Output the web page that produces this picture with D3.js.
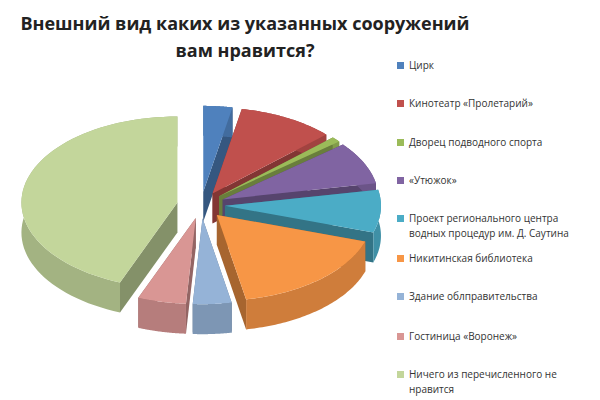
<!DOCTYPE html><html><head><meta charset="utf-8"><script src="https://cdn.jsdelivr.net/npm/d3@7"></script>
<style>body{margin:0;background:#fff}</style></head><body><svg id="c" width="600" height="400"></svg>
<script>
const categories=["Цирк","Кинотеатр «Пролетарий»","Дворец подводного  спорта","«Утюжок»","Проект регионального  центра|водных процедур им. Д. Саутина","Никитинская  библиотека","Здание облправительства","Гостиница «Воронеж»","Ничего из перечисленного не|нравится"];
const values=[3,10,1,8,8,17,4,5,44];
const colors=["#4F81BD","#C0504D","#9BBB59","#8064A2","#4BACC6","#F79646","#95B3D7","#D99694","#C3D69B"];
const svg=d3.select("#c");
svg.append("text").attr("x",245).attr("y",30).attr("text-anchor","middle").attr("font-family","Open Sans, sans-serif").attr("font-weight","bold").attr("font-size",18).attr("fill","#222").text("Внешний вид каких из указанных сооружений");
svg.append("text").attr("x",245).attr("y",57).attr("text-anchor","middle").attr("font-family","Open Sans, sans-serif").attr("font-weight","bold").attr("font-size",18).attr("fill","#222").text("вам нравится?");
const pie=d3.pie().sort(null).value(d=>d)(values);
const cx=201,cy=205,rx=156,ry=86,depth=30,ex=24;
const g=svg.append("g");
function pt(a,r,ox,oy,dz){return [cx+ox+r*rx*Math.sin(a),cy+oy-r*ry*Math.cos(a)+dz];}
const slices=pie.map((p,i)=>{const m=(p.startAngle+p.endAngle)/2;const ox=ex*Math.sin(m),oy=ex*0.55*-Math.cos(m);return {p,i,m,ox,oy};});
slices.sort((a,b)=>(-Math.cos(a.m))-(-Math.cos(b.m)));
slices.forEach(s=>{
 const {p,i,ox,oy}=s;const col=d3.color(colors[i]);const dark=col.darker(1.1).formatHex(),mid=col.darker(0.5).formatHex();
 const N=60;const arcPts=(dz)=>d3.range(N+1).map(k=>pt(p.startAngle+(p.endAngle-p.startAngle)*k/N,1,ox,oy,dz));
 const c0=pt(0,0,ox,oy,0),c1=pt(0,0,ox,oy,depth);
 const a0=pt(p.startAngle,1,ox,oy,0),a0b=pt(p.startAngle,1,ox,oy,depth);
 const a1=pt(p.endAngle,1,ox,oy,0),a1b=pt(p.endAngle,1,ox,oy,depth);
 const line=d3.line();
 [[c0,a0,a0b,c1],[c0,a1,a1b,c1]].forEach(w=>g.append("path").attr("d",line(w)+"Z").attr("fill",dark));
 const top=arcPts(0),bot=arcPts(depth).reverse();
 g.append("path").attr("d",line(top.concat(bot))+"Z").attr("fill",mid);
 g.append("path").attr("d",line([c0].concat(top))+"Z").attr("fill",colors[i]);
});
const lg=svg.append("g").attr("font-family","Open Sans, sans-serif").attr("font-size",10).attr("fill","#333");
const ly=[69,107,146,184,222,262,300,340,378];
categories.forEach((c,i)=>{
 lg.append("rect").attr("x",397).attr("y",ly[i]-7).attr("width",7).attr("height",7).attr("fill",colors[i]);
 c.split("|").forEach((t,j)=>lg.append("text").attr("x",409).attr("y",ly[i]+j*15).text(t));
});
</script></body></html>
